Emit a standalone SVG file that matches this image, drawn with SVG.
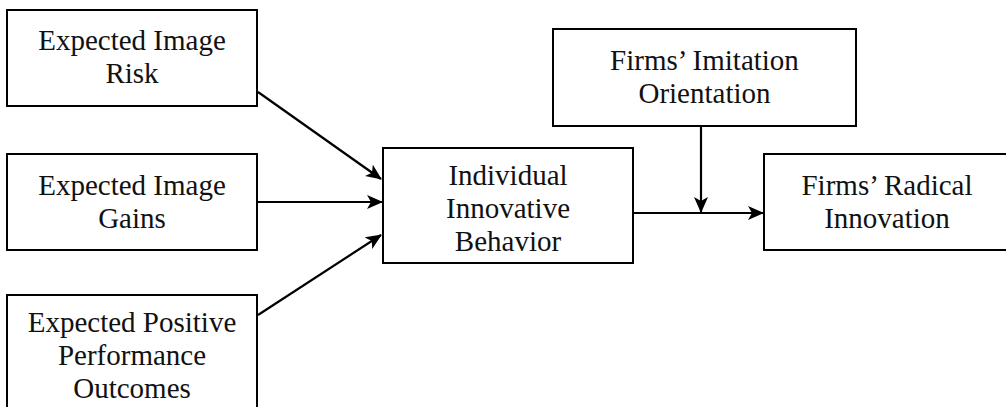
<svg xmlns="http://www.w3.org/2000/svg" width="1006" height="407" viewBox="0 0 1006 407">
  <style>
    .box { fill: #ffffff; stroke: #000000; stroke-width: 2; }
    .lbl { font-family: "Liberation Serif", "Times New Roman", serif; font-size: 29px; fill: #111111; text-anchor: middle; }
    .edge { fill: none; stroke: #000000; stroke-width: 2.2; }
  </style>
  <defs>
    <marker id="arr" markerUnits="userSpaceOnUse" markerWidth="16" markerHeight="14" viewBox="0 0 16 14" refX="15" refY="7" orient="auto">
      <path d="M0,0 L16,7 L0,14 L4,7 Z" fill="#000000"/>
    </marker>
  </defs>
  <rect width="1006" height="407" fill="#ffffff"/>

  <g id="node-risk">
    <rect class="box" x="7" y="10" width="250" height="96"/>
    <text class="lbl" x="132" y="50">Expected Image</text>
    <text class="lbl" x="132" y="83">Risk</text>
  </g>
  <g id="node-gains">
    <rect class="box" x="7" y="154" width="250" height="96"/>
    <text class="lbl" x="132" y="195">Expected Image</text>
    <text class="lbl" x="132" y="228">Gains</text>
  </g>
  <g id="node-outcomes">
    <rect class="box" x="7" y="295" width="250" height="130"/>
    <text class="lbl" x="132" y="332">Expected Positive</text>
    <text class="lbl" x="132" y="365">Performance</text>
    <text class="lbl" x="132" y="398">Outcomes</text>
  </g>
  <g id="node-iib">
    <rect class="box" x="383" y="148" width="250" height="115"/>
    <text class="lbl" x="508" y="185">Individual</text>
    <text class="lbl" x="508" y="218">Innovative</text>
    <text class="lbl" x="508" y="251">Behavior</text>
  </g>
  <g id="node-imitation">
    <rect class="box" x="553" y="29" width="303" height="97"/>
    <text class="lbl" x="704.5" y="70">Firms’ Imitation</text>
    <text class="lbl" x="704.5" y="103">Orientation</text>
  </g>
  <g id="node-radical">
    <rect class="box" x="764" y="154" width="250" height="96"/>
    <text class="lbl" x="887" y="195">Firms’ Radical</text>
    <text class="lbl" x="887" y="228">Innovation</text>
  </g>

  <g id="connectors">
    <line class="edge" x1="258" y1="92" x2="381" y2="179" marker-end="url(#arr)"/>
    <line class="edge" x1="258" y1="202" x2="382" y2="202" marker-end="url(#arr)"/>
    <line class="edge" x1="258" y1="315" x2="381" y2="235" marker-end="url(#arr)"/>
    <line class="edge" x1="633" y1="213" x2="763" y2="213" marker-end="url(#arr)"/>
    <line class="edge" x1="701" y1="126" x2="701" y2="212" marker-end="url(#arr)"/>
  </g>
</svg>
